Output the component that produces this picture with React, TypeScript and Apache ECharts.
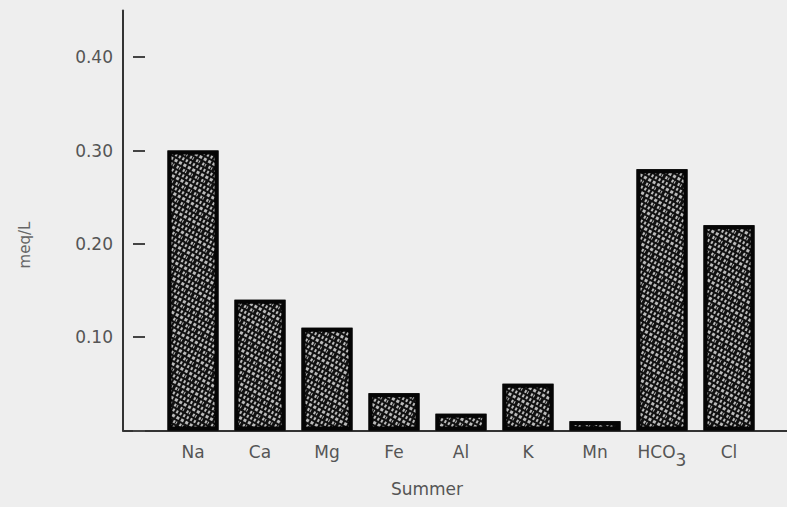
import React, { useEffect, useRef } from "react";
import * as echarts from "echarts";

const categories = ["Na", "Ca", "Mg", "Fe", "Al", "K", "Mn", "HCO3", "Cl"];
const values = [0.30, 0.14, 0.11, 0.04, 0.018, 0.05, 0.01, 0.28, 0.22];
const yTicks = [0.1, 0.2, 0.3, 0.4];
const xTitle = "Summer";
const yTitle = "meq/L";

export default function App() {
  const ref = useRef<HTMLDivElement>(null);
  useEffect(() => {
    const chart = echarts.init(ref.current!, null, { renderer: "svg" });
    const font = "DejaVu Sans";
    const textColor = "#555";
    chart.setOption({
      animation: false,
      backgroundColor: "#eeeeee",
      grid: [
        { left: 159.5, right: 24.5, top: 57.2, bottom: 76.5 },
        { left: 123, right: 0, top: 10.5, bottom: 76.5 },
      ],
      xAxis: [
        {
          type: "category",
          gridIndex: 0,
          data: categories,
          axisLine: { show: false },
          axisTick: { show: false },
          axisLabel: {
            interval: 0,
            margin: 13,
            fontSize: 17,
            fontFamily: font,
            color: textColor,
            formatter: (v: string) => (v === "HCO3" ? "{m|HCO}{sub|3}" : v),
            rich: {
              m: { fontSize: 17, fontFamily: font, color: textColor, padding: [0, 0, 8, 0] },
              sub: { fontSize: 17, fontFamily: font, color: textColor, padding: [8, 0, 0, 0] },
            },
          },
        },
        {
          type: "value",
          gridIndex: 1,
          min: 0,
          max: 1,
          axisLine: { show: true, onZero: false, lineStyle: { color: "#333", width: 2 } },
          axisTick: { show: false },
          axisLabel: { show: false },
          splitLine: { show: false },
        },
      ],
      yAxis: [
        {
          type: "value",
          gridIndex: 0,
          min: 0,
          max: 0.4,
          interval: 0.1,
          offset: 14.5,
          axisLine: { show: false },
          axisTick: {
            show: true,
            inside: false,
            length: 12,
            lineStyle: { color: "#444", width: 2 },
          },
          axisLabel: { show: false },
          splitLine: { show: false },
        },
        {
          type: "value",
          gridIndex: 1,
          min: 0,
          max: 0.45,
          interval: 0.1,
          axisLine: { show: true, lineStyle: { color: "#333", width: 2 } },
          axisTick: { show: false },
          axisLabel: {
            margin: 10,
            fontSize: 17,
            fontFamily: font,
            color: textColor,
            formatter: (v: number) =>
              yTicks.some((t) => Math.abs(t - v) < 1e-9) ? v.toFixed(2) : "",
          },
          splitLine: { show: false },
        },
      ],
      graphic: [
        {
          type: "text",
          x: 427,
          y: 489,
          style: {
            text: xTitle,
            fontSize: 17,
            fontFamily: font,
            fill: textColor,
            textAlign: "center",
            textVerticalAlign: "middle",
          },
        },
        {
          type: "text",
          x: 25,
          y: 245,
          rotation: Math.PI / 2,
          style: {
            text: yTitle,
            fontSize: 15,
            fontFamily: font,
            fill: "#666",
            textAlign: "center",
            textVerticalAlign: "middle",
          },
        },
      ],
      series: [
        {
          type: "bar",
          xAxisIndex: 0,
          yAxisIndex: 0,
          data: values,
          barWidth: 51,
          itemStyle: {
            color: "#111111",
            borderColor: "#050505",
            borderWidth: 4,
            decal: {
              symbol: "rect",
              symbolSize: 1,
              color: "rgba(230,230,230,0.8)",
              dashArrayX: [[3, 2], [1, 3, 2, 1], [2, 2]],
              dashArrayY: [3, 2],
              rotation: 0.5,
            },
          },
        },
      ],
    });
    return () => chart.dispose();
  }, []);
  return (
    <div
      ref={ref}
      style={{ position: "fixed", left: 0, top: 0, width: 787, height: 507 }}
    />
  );
}
